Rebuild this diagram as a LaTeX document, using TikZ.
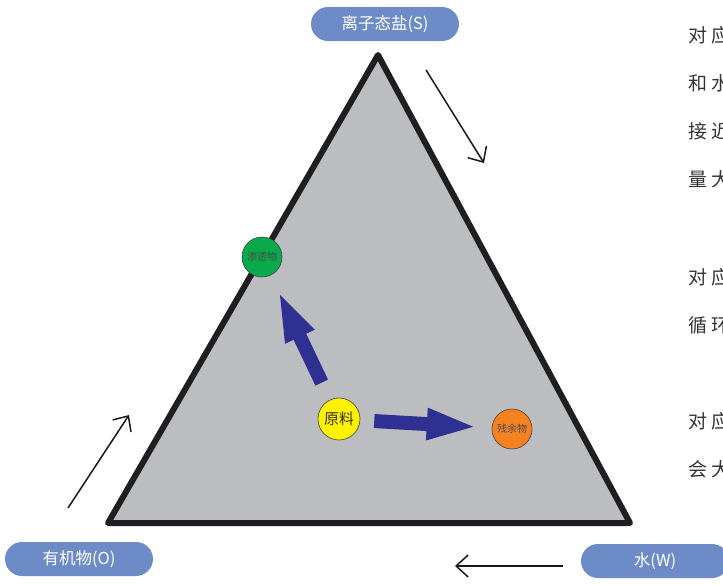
\documentclass[tikz,border=0pt]{standalone}
\usepackage{fontspec}
\setmainfont{Noto Sans CJK SC}
\usetikzlibrary{arrows.meta}
\definecolor{pillblue}{HTML}{6D8BC7}
\definecolor{trigray}{HTML}{BCBDC1}
\definecolor{arrblue}{HTML}{2E3192}
\definecolor{cgreen}{HTML}{0AAA4B}
\definecolor{cyellow}{HTML}{FFF200}
\definecolor{corange}{HTML}{F48221}
\definecolor{txtgray}{HTML}{333333}
\tikzset{
  pill/.style={fill=pillblue, rounded corners=17pt, minimum width=148pt, minimum height=34pt, text=white, font=\fontsize{16.5}{16.5}\selectfont, inner sep=0pt},
  ball/.style={circle, draw=black!75, line width=0.6pt, minimum size=40pt, inner sep=0pt},
  thinarr/.style={draw=black!90, line width=1.5pt, -{Straight Barb[length=12pt,width=22pt]}},
  bigarr/.style={draw=arrblue, line width=14pt, -{Triangle[length=52pt,width=28pt]}},
  sidetxt/.style={anchor=west, text=txtgray, font=\fontsize{19}{19}\selectfont, inner sep=0pt}
}
\begin{document}
\begin{tikzpicture}[x=1pt,y=-1pt]
\useasboundingbox (0,0) rectangle (723,584);
\begin{scope}
\clip (0,0) rectangle (723,584);
% triangle
\coordinate (A) at (378,55);
\coordinate (B) at (108,523);
\coordinate (C) at (630,523);
\filldraw[fill=trigray, draw=black!88, line width=6pt, line join=round] (A) -- (B) -- (C) -- cycle;
% labels
\node[pill] (S) at (385,24) {离子态盐(S)};
\node[pill] (O) at (79,559) {有机物(O)};
\node[pill] (W) at (655,561) {水(W)};
% thin arrows
\coordinate (t1a) at (426,70); \coordinate (t1b) at (484,163);
\coordinate (t2a) at (68,508); \coordinate (t2b) at (129,415);
\coordinate (t3a) at (563,566); \coordinate (t3b) at (455,566);
\draw[thinarr] (t1a) -- (t1b);
\draw[thinarr] (t2a) -- (t2b);
\draw[thinarr] (t3a) -- (t3b);
% circles
\node[ball, fill=cgreen, minimum size=40pt] (P) at (262,257) {\fontsize{10}{10}\selectfont\color{black!70}渗透物};
\node[ball, fill=cyellow, minimum size=42pt] (F) at (339,419) {\fontsize{15}{15}\selectfont\color{black!80}原料};
\node[ball, fill=corange, minimum size=40pt] (R) at (512,429) {\fontsize{10}{10}\selectfont\color{black!70}残余物};
% big arrows
\draw[bigarr, shorten <=19pt, shorten >=16pt] (F) -- (P);
\draw[bigarr, shorten <=14pt, shorten >=13pt] (F) -- (R);
% side text
\node[sidetxt] (r1) at (688,35) {对\hspace{4pt}应};
\node[sidetxt] (r2) at (688,83) {和\hspace{4pt}水};
\node[sidetxt] (r3) at (688,131) {接\hspace{4pt}近};
\node[sidetxt] (r4) at (688,179) {量\hspace{4pt}大};
\node[sidetxt] (r5) at (688,277) {对\hspace{4pt}应};
\node[sidetxt] (r6) at (688,325) {循\hspace{4pt}环};
\node[sidetxt] (r7) at (688,421) {对\hspace{4pt}应};
\node[sidetxt] (r8) at (688,469) {会\hspace{4pt}大};
\end{scope}
\end{tikzpicture}
\end{document}
